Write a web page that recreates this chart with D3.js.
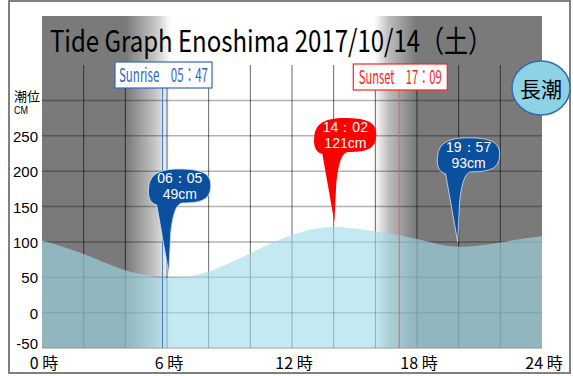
<!DOCTYPE html>
<html>
<head>
<meta charset="utf-8">
<script src="https://cdn.jsdelivr.net/npm/d3@7"></script>
<style>
  body { margin: 0; background: #fff; }
  svg { display: block; }
</style>
</head>
<body>
<div id="chart-area"></div>
<script>
// data
let hours = [0, 1, 2, 3, 4, 5, 6, 7, 8, 9, 10, 11, 12, 13, 14, 15, 16, 17, 18, 19, 20, 21, 22, 23, 24];
let tideCm = [102, 93, 83, 71, 60, 53, 49, 51, 58, 70, 84, 98, 110, 118, 121, 119, 115, 110, 104, 97, 93, 95, 99, 104, 108];
let peakTimes = ["06:05", "14:02", "19:57"];
let peakCm = [49, 121, 93];
let peakKind = ["low", "high", "low"];
let yTicks = [250, 200, 150, 100, 50, 0, -50];
let xLabelHours = [0, 6, 12, 18, 24];
let gridHours = [2, 4, 6, 8, 10, 12, 14, 16, 18, 20, 22];
let gridCm = [300, 250, 200, 150, 100, 50, 0, -50];
let sunrise = "05:47";
let sunset = "17:09";
let tideName = "長潮";
let title = "Tide Graph Enoshima 2017/10/14（土）";

let W = 573, H = 376;
let plot = {left: 42, right: 542, top: 16, bottom: 348};

let svg = d3.select("#chart-area")
            .append("svg")
            .attr("width", W)
            .attr("height", H);

let x = d3.scaleLinear().domain([0, 24]).range([plot.left, plot.right]);
let y = d3.scaleLinear().domain([-50, 350]).range([plot.bottom, 65]);

function toHours(s){
    let p = s.split(":");
    return +p[0] + (+p[1]) / 60;
}
let rise = toHours(sunrise);
let set = toHours(sunset);

// outer frame
svg.append("rect")
    .attr("x", 9).attr("y", 1)
    .attr("width", 561).attr("height", 372)
    .attr("fill", "none")
    .attr("stroke", "#808080")
    .attr("stroke-width", 2);

// night / day background gradient
let night = "#7a7a7a";
let grad = svg.append("defs").append("linearGradient")
    .attr("id", "daylight")
    .attr("gradientUnits", "userSpaceOnUse")
    .attr("x1", x(0)).attr("x2", x(24))
    .attr("y1", 0).attr("y2", 0);
let stops = [
    [0, night], [rise - 1.75, night], [rise - 0.3, "#c8c8c8"], [rise + 0.4, "#ffffff"],
    [set - 1.2, "#ffffff"], [set - 0.5, "#bdbdbd"], [set + 0.8, night], [24, night]
];
grad.selectAll("stop")
    .data(stops)
    .enter().append("stop")
    .attr("offset", d => d[0] / 24)
    .attr("stop-color", d => d[1]);

svg.append("rect")
    .attr("x", plot.left).attr("y", plot.top)
    .attr("width", plot.right - plot.left)
    .attr("height", plot.bottom - plot.top)
    .attr("fill", "url(#daylight)");

//grid
let g = svg.append("g");
g.selectAll(".hgrid")
    .data(gridCm)
    .enter().append("line")
    .attr("class", "hgrid")
    .attr("x1", plot.left).attr("x2", plot.right)
    .attr("y1", d => y(d)).attr("y2", d => y(d))
    .attr("stroke", "#000")
    .attr("stroke-opacity", 0.3)
    .attr("stroke-width", 1.5);

g.selectAll(".vgrid")
    .data(gridHours)
    .enter().append("line")
    .attr("class", "vgrid")
    .attr("x1", d => x(d)).attr("x2", d => x(d))
    .attr("y1", y(350)).attr("y2", plot.bottom)
    .attr("stroke", "#000")
    .attr("stroke-opacity", 0.6)
    .attr("stroke-width", 1);

// tide water
let area = d3.area()
    .x((d, i) => x(hours[i]))
    .y0(y(-50))
    .y1(d => y(d))
    .curve(d3.curveMonotoneX);

svg.append("path")
    .datum(tideCm)
    .attr("d", area)
    .attr("fill", "#9fdbe8")
    .attr("fill-opacity", 0.62);

// title
svg.append("text")
    .attr("x", 50)
    .attr("y", 52)
    .attr("font-family", "'Noto Sans CJK JP', sans-serif")
    .attr("font-size", 30)
    .attr("textLength", 442)
    .attr("lengthAdjust", "spacingAndGlyphs")
    .attr("fill", "#000")
    .text(title);

// sunrise / sunset
let sun = [
    {t: rise, label: "Sunrise　" + sunrise.replace(":", "："), color: "#2f67c4", line: "#4a7fd0", w: 97, len: 89, top: 62},
    {t: set, label: "Sunset　" + sunset.replace(":", "："), color: "#ff2020", line: "#ff5a5a", w: 94, len: 83, top: 64}
];
sun.forEach(function(s){
    let cx = x(s.t) + 1;
    svg.append("line")
        .attr("x1", x(s.t)).attr("x2", x(s.t))
        .attr("y1", s.top + 26).attr("y2", plot.bottom)
        .attr("stroke", s.line)
        .attr("stroke-width", 1);
    svg.append("rect")
        .attr("x", cx - s.w / 2).attr("y", s.top)
        .attr("width", s.w).attr("height", 26)
        .attr("fill", "#fff")
        .attr("stroke", s.color)
        .attr("stroke-width", 1.2);
    svg.append("text")
        .attr("x", cx).attr("y", s.top + 20)
        .attr("text-anchor", "middle")
        .attr("font-family", "'Noto Sans CJK JP', sans-serif")
        .attr("font-size", 19)
        .attr("textLength", s.len)
        .attr("lengthAdjust", "spacingAndGlyphs")
        .attr("fill", s.color)
        .text(s.label);
});

// y axis labels
svg.selectAll(".ylab")
    .data(yTicks)
    .enter().append("text")
    .attr("class", "ylab")
    .attr("x", 38)
    .attr("y", d => Math.min(y(d) + 6, 349))
    .attr("text-anchor", "end")
    .attr("font-family", "'Liberation Sans', Arial, sans-serif")
    .attr("font-size", 15)
    .attr("fill", "#000")
    .text(d => d);

svg.append("text")
    .attr("x", 14).attr("y", 101)
    .attr("font-family", "'Noto Sans CJK JP', sans-serif")
    .attr("font-size", 13)
    .text("潮位");
svg.append("text")
    .attr("x", 14).attr("y", 114)
    .attr("font-family", "'Liberation Sans', Arial, sans-serif")
    .attr("font-size", 11)
    .attr("textLength", 14)
    .attr("lengthAdjust", "spacingAndGlyphs")
    .text("CM");

// x axis labels
svg.selectAll(".xlab")
    .data(xLabelHours)
    .enter().append("text")
    .attr("class", "xlab")
    .attr("x", d => x(d) + 2)
    .attr("y", 369)
    .attr("text-anchor", "middle")
    .attr("font-family", "'Noto Sans CJK JP', sans-serif")
    .attr("font-size", 16)
    .text(d => d + " 時");

// high / low tide pins
let pinPath = "M0,0 L-12,-68 C-20,-70 -21,-78 -20,-86 C-19,-98 -10,-104 10,-104 " +
              "C32,-104 42,-100 42,-88 C42,-74 34,-70 14,-70 C8,-70 4,-60 2,-40 L0,0 Z";

let pins = svg.selectAll(".pin")
    .data(peakTimes)
    .enter().append("g")
    .attr("class", "pin")
    .attr("transform", (d, i) => "translate(" + x(toHours(d)) + "," + (y(peakCm[i]) - 5) + ")");

pins.append("path")
    .attr("d", pinPath)
    .attr("fill", (d, i) => peakKind[i] == "high" ? "#ff0000" : "#0b4f9f")
    .attr("stroke", (d, i) => peakKind[i] == "high" ? "none" : "#d5e3f2")
    .attr("stroke-width", 0.8);

pins.append("text")
    .attr("x", 11).attr("y", -90)
    .attr("text-anchor", "middle")
    .attr("font-family", "'Liberation Sans', Arial, sans-serif")
    .attr("font-size", 14)
    .attr("fill", "#fff")
    .text(d => d.replace(":", "："));

pins.append("text")
    .attr("x", 11).attr("y", -74)
    .attr("text-anchor", "middle")
    .attr("font-family", "'Liberation Sans', Arial, sans-serif")
    .attr("font-size", 14)
    .attr("fill", "#fff")
    .text((d, i) => peakCm[i] + "cm");

// tide name badge
svg.append("ellipse")
    .attr("cx", 541).attr("cy", 88)
    .attr("rx", 29).attr("ry", 27)
    .attr("fill", "#8ed2e6")
    .attr("stroke", "#2f6fae")
    .attr("stroke-width", 1.5);
svg.append("text")
    .attr("x", 541).attr("y", 97)
    .attr("text-anchor", "middle")
    .attr("font-family", "'Noto Sans CJK JP', sans-serif")
    .attr("font-size", 21)
    .attr("fill", "#000")
    .text(tideName);
</script>
</body>
</html>
